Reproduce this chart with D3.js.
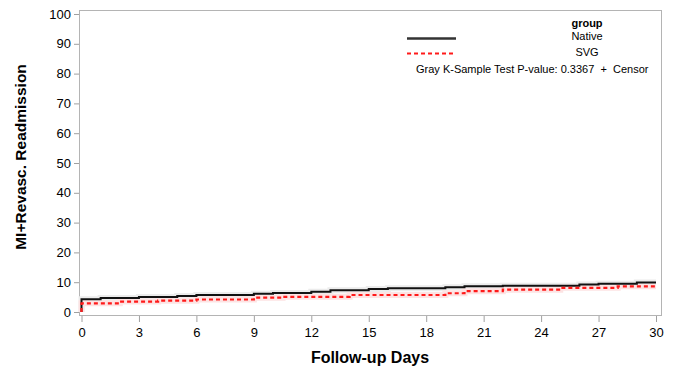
<!DOCTYPE html>
<html>
<head>
<meta charset="utf-8">
<script src="https://cdn.jsdelivr.net/npm/d3@7"></script>
<style>
  body { margin: 0; background: #fff; }
  text { font-family: "Liberation Sans", Arial, sans-serif; }
</style>
</head>
<body>
<div id="chart"></div>
<script>
// cumulative incidence, step points (day, %)
const nativeDays   = [0, 0, 1, 3, 5, 6, 9, 10, 12, 13, 15, 16, 19, 20, 22, 26, 27, 29, 30];
const nativeValues = [0, 4.3, 4.7, 5.0, 5.4, 5.7, 6.1, 6.4, 6.8, 7.3, 7.7, 8.0, 8.3, 8.6, 8.8, 9.2, 9.5, 9.9, 9.9];
const svgDays   = [0, 0, 2, 4, 6, 9, 10.5, 14, 19, 20, 22, 25, 28, 30];
const svgValues = [0, 2.9, 3.5, 3.8, 4.2, 4.8, 5.1, 5.7, 6.3, 7.0, 7.5, 8.1, 8.6, 8.6];

const xTicks = [0, 3, 6, 9, 12, 15, 18, 21, 24, 27, 30];
const yTicks = [0, 10, 20, 30, 40, 50, 60, 70, 80, 90, 100];
const groups = ["Native", "SVG"];

const width = 674, height = 370;
const frame = {left: 79, top: 10, right: 661, bottom: 315};

let svg = d3.select('#chart')
    .append("svg")
    .attr("width", width)
    .attr("height", height);

let x = d3.scaleLinear().domain([0, 30]).range([81.5, 656]);
let y = d3.scaleLinear().domain([0, 100]).range([312, 14]);

// plot frame
svg.append("rect")
    .attr("x", frame.left + 0.5)
    .attr("y", frame.top + 0.5)
    .attr("width", frame.right - frame.left)
    .attr("height", frame.bottom - frame.top)
    .attr("fill", "none")
    .attr("stroke", "#b4b4b4")
    .attr("stroke-width", 1);

let yAxis = svg.append("g")
    .attr("transform", `translate(${frame.left}, 0)`)
    .call(d3.axisLeft(y).tickValues(yTicks).tickSize(5).tickPadding(3));
let xAxis = svg.append("g")
    .attr("transform", `translate(0, ${frame.bottom + 1})`)
    .call(d3.axisBottom(x).tickValues(xTicks).tickSize(6).tickPadding(6));

[yAxis, xAxis].forEach(function(a) {
    a.select(".domain").remove();
    a.selectAll(".tick line").attr("stroke", "#a0a0a0");
    a.selectAll(".tick text")
        .attr("fill", "#000")
        .style("font-size", "13px")
        .style("font-family", "'Liberation Sans', Arial, sans-serif");
});

let line = d3.line()
    .x(d => x(d[0]))
    .y(d => y(d[1]))
    .curve(d3.curveStepAfter);

let nativeData = nativeDays.map((d, i) => [d, nativeValues[i]]);
let svgData = svgDays.map((d, i) => [d, svgValues[i]]);

// faint halos
svg.append("path").datum(nativeData)
    .attr("d", line).attr("fill", "none")
    .attr("stroke", "#ececec").attr("stroke-width", 6);
svg.append("path").datum(svgData)
    .attr("d", line).attr("fill", "none")
    .attr("stroke", "#fde3e3").attr("stroke-width", 6);

svg.append("path").datum(nativeData)
    .attr("d", line).attr("fill", "none")
    .attr("stroke", "#111").attr("stroke-width", 2);
svg.append("path").datum(svgData)
    .attr("d", line).attr("fill", "none")
    .attr("stroke", "#ff1a1a").attr("stroke-width", 2.2)
    .attr("stroke-dasharray", "4,3");

// legend
let legend = svg.append("g");
legend.append("text")
    .attr("x", 587).attr("y", 27)
    .attr("text-anchor", "middle")
    .style("font-size", "11px").style("font-weight", "bold")
    .text("group");
legend.append("line")
    .attr("x1", 407).attr("x2", 456).attr("y1", 38.5).attr("y2", 38.5)
    .attr("stroke", "#333").attr("stroke-width", 2.5);
legend.append("line")
    .attr("x1", 407).attr("x2", 454).attr("y1", 53.5).attr("y2", 53.5)
    .attr("stroke", "#ff1a1a").attr("stroke-width", 2.2)
    .attr("stroke-dasharray", "4,3");
legend.selectAll(".grp")
    .data(groups)
    .enter()
    .append("text")
    .attr("x", 587)
    .attr("y", (d, i) => 40 + i * 16)
    .attr("text-anchor", "middle")
    .style("font-size", "11px")
    .text(d => d);
legend.append("text")
    .attr("x", 416).attr("y", 73)
    .style("font-size", "11px")
    .attr("xml:space", "preserve")
    .text("Gray K-Sample Test P-value: 0.3367  +  Censor");

// axis titles
svg.append("text")
    .attr("transform", `translate(26, ${157}) rotate(-90)`)
    .attr("text-anchor", "middle")
    .style("font-size", "15.5px").style("font-weight", "bold")
    .text("MI+Revasc. Readmission");
svg.append("text")
    .attr("x", 370).attr("y", 363)
    .attr("text-anchor", "middle")
    .style("font-size", "16px").style("font-weight", "bold")
    .text("Follow-up Days");
</script>
</body>
</html>
